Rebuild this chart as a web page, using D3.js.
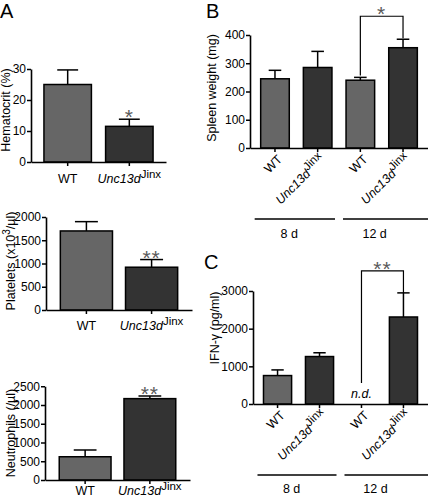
<!DOCTYPE html>
<html><head><meta charset="utf-8">
<script src="https://cdn.jsdelivr.net/npm/d3@7"></script>
<style>
body{margin:0;background:#fff;}
svg{display:block;font-family:"Liberation Sans",Arial,sans-serif;}
</style></head><body>
<svg id="chart" width="428" height="499"></svg>
<script>
// ---------- data ----------
const genotypes = ["WT", "Unc13d"];
const hematocrit = [25, 11.5];
const hematocritErr = [4.7, 2.3];
const hematocritTicks = [0, 10, 20, 30];
const hematocritSig = ["", "*"];

const platelets = [1700, 920];
const plateletsErr = [200, 165];
const plateletsTicks = [0, 500, 1000, 1500, 2000];
const plateletsSig = ["", "**"];

const neutrophils = [620, 2170];
const neutrophilsErr = [180, 70];
const neutrophilsTicks = [0, 500, 1000, 1500, 2000, 2500];
const neutrophilsSig = ["", "**"];

const bcCategories = ["WT 8 d", "Unc13d 8 d", "WT 12 d", "Unc13d 12 d"];
const bcGenotypes = ["WT", "Unc13d", "WT", "Unc13d"];
const timepoints = ["8 d", "12 d"];

const spleen = [245, 285, 240, 355];
const spleenErr = [30, 57, 10, 30];
const spleenTicks = [0, 100, 200, 300, 400];
const spleenSig = "*";

const ifng = [755, 1260, null, 2310];
const ifngErr = [150, 100, null, 640];
const ifngTicks = [0, 1000, 2000, 3000];
const ifngSig = "**";
const notDetected = "n.d.";

// ---------- style ----------
const FILL = {WT: "#666666", Unc13d: "#333333"};
const STAR = "#5a5a5a";
const svg = d3.select("#chart");

function genotypeText(sel, g) {
  if (g === "Unc13d") {
    sel.append("tspan").attr("font-style", "italic").text("Unc13d");
    sel.append("tspan").attr("dy", -5).attr("font-size", 11.5).text("Jinx");
  } else sel.text(g);
}

function panel(cfg) {
  const g = svg.append("g");
  const x = d3.scaleBand().domain(cfg.cats).range([cfg.x0, cfg.x1])
    .paddingInner(cfg.pi).paddingOuter(cfg.po);
  const y = d3.scaleLinear().domain([0, cfg.max]).range([cfg.y0, cfg.yTop]);
  const bw = x.bandwidth();

  cfg.cats.forEach((c, i) => {
    const v = cfg.values[i];
    if (v == null) return;
    const e = cfg.errs[i];
    const cx = x(c) + bw / 2;
    g.append("line").attr("x1", cx).attr("x2", cx)
      .attr("y1", y(v)).attr("y2", y(v + e))
      .attr("stroke", "#000").attr("stroke-width", 1.5);
    g.append("line").attr("x1", cx - bw * 0.22).attr("x2", cx + bw * 0.22)
      .attr("y1", y(v + e)).attr("y2", y(v + e))
      .attr("stroke", "#000").attr("stroke-width", 1.5);
    g.append("rect").attr("x", x(c)).attr("width", bw)
      .attr("y", y(v)).attr("height", y(0) - y(v))
      .attr("fill", FILL[cfg.geno[i]]).attr("stroke", "#000").attr("stroke-width", 1.5);
    if (cfg.sig && cfg.sig[i]) {
      g.append("text").attr("x", cx).attr("y", y(v + e) + 5)
        .attr("text-anchor", "middle").attr("font-size", 21).attr("fill", STAR)
        .attr("letter-spacing", 1).text(cfg.sig[i]);
    }
  });

  const ya = g.append("g").attr("transform", `translate(${cfg.x0},0)`)
    .call(d3.axisLeft(y).tickValues(cfg.ticks).tickFormat(d3.format("d"))
      .tickSize(4).tickSizeOuter(0).tickPadding(1));
  ya.attr("font-family", null).attr("font-size", null);
  ya.selectAll("text").attr("font-size", 12).attr("fill", "#000");
  const xa = g.append("g").attr("transform", `translate(0,${cfg.y0})`)
    .call(d3.axisBottom(x).tickSize(4).tickSizeOuter(0));
  xa.selectAll("text").remove();
  [ya, xa].forEach(a => {
    a.select(".domain").attr("stroke", "#000").attr("stroke-width", 1.6);
    a.selectAll(".tick line").attr("stroke", "#000").attr("stroke-width", 1.5);
  });

  cfg.cats.forEach((c, i) => {
    const cx = x(c) + bw / 2;
    if (cfg.rotate) {
      const t = g.append("text").attr("font-size", 12.5).attr("text-anchor", "end")
        .attr("transform", `translate(${cx + 8},${cfg.y0 + 12}) rotate(-45)`);
      genotypeText(t, cfg.geno[i]);
    } else {
      const t = g.append("text").attr("font-size", 12.5).attr("text-anchor", "middle")
        .attr("x", cx).attr("y", cfg.y0 + cfg.labelDy);
      genotypeText(t, cfg.geno[i]);
    }
  });

  const tt = g.append("text").attr("font-size", 12.5).attr("text-anchor", "middle")
    .attr("transform", `translate(${cfg.tx},${cfg.ty}) rotate(-90)`);
  cfg.title(tt);
  return {g, x, y, bw};
}

// Panel A - hematocrit
panel({cats: genotypes, geno: genotypes, values: hematocrit, errs: hematocritErr,
  ticks: hematocritTicks, sig: hematocritSig, max: 30, labelDy: 21,
  x0: 31, x1: 166, pi: 0.23, po: 0.21, y0: 162, yTop: 69, tx: 10, ty: 110,
  title: t => t.text("Hematocrit (%)")});

// Panel A - platelets
panel({cats: genotypes, geno: genotypes, values: platelets, errs: plateletsErr,
  ticks: plateletsTicks, sig: plateletsSig, max: 2000, labelDy: 20,
  x0: 46, x1: 192, pi: 0.2, po: 0.22, y0: 310, yTop: 217, tx: 15, ty: 261,
  title: t => { t.append("tspan").text("Platelets (x10");
    t.append("tspan").attr("dy", -5).attr("font-size", 10).text("3");
    t.append("tspan").attr("dy", 5).text("/µl)"); }});

// Panel A - neutrophils
panel({cats: genotypes, geno: genotypes, values: neutrophils, errs: neutrophilsErr,
  ticks: neutrophilsTicks, sig: neutrophilsSig, max: 2500, labelDy: 15,
  x0: 45, x1: 190, pi: 0.2, po: 0.22, y0: 480, yTop: 386.25, tx: 15, ty: 433,
  title: t => t.text("Neutrophils (/µl)")});

function groupMarks(p, y0, lineDy, labelDy, x1) {
  const {g, x, bw} = p;
  const c = bcCategories;
  const mid = (x(c[1]) + bw + x(c[2])) / 2;
  const segs = [[x(c[0]) - 6, mid - 4], [mid + 4, x1]];
  segs.forEach((s, i) => {
    g.append("line").attr("x1", s[0]).attr("x2", s[1])
      .attr("y1", y0 + lineDy).attr("y2", y0 + lineDy)
      .attr("stroke", "#000").attr("stroke-width", 1.3);
    g.append("text").attr("x", x(c[i * 2]) + bw).attr("y", y0 + labelDy)
      .attr("text-anchor", "middle").attr("font-size", 12.5).text(timepoints[i]);
  });
}

function bracket(p, i1, i2, yLeftBottom, yRightBottom, sig) {
  const {g, x, bw} = p;
  const xa = x(bcCategories[i1]) + bw / 2, xb = x(bcCategories[i2]) + bw / 2;
  const top = Math.min(yLeftBottom, yRightBottom) - 22;
  g.append("path").attr("d", `M${xa},${yLeftBottom}V${top}H${xb}V${yRightBottom}`)
    .attr("fill", "none").attr("stroke", "#000").attr("stroke-width", 1.2);
  g.append("text").attr("x", (xa + xb) / 2).attr("y", top + 5)
    .attr("text-anchor", "middle").attr("font-size", 21).attr("fill", STAR)
    .attr("letter-spacing", 1).text(sig);
}

// Panel B - spleen
const pB = panel({cats: bcCategories, geno: bcGenotypes, values: spleen, errs: spleenErr,
  ticks: spleenTicks, sig: null, max: 400, rotate: true,
  x0: 250, x1: 428, pi: 0.33, po: 0.25, y0: 148, yTop: 35, tx: 216, ty: 88,
  title: t => t.text("Spleen weight (mg)")});
groupMarks(pB, 148, 71, 90, 428);
bracket(pB, 2, 3, pB.y(spleen[2] + spleenErr[2]) - 2, pB.y(spleen[3] + spleenErr[3]) - 1, spleenSig);

// Panel C - IFN-γ
const pC = panel({cats: bcCategories, geno: bcGenotypes, values: ifng, errs: ifngErr,
  ticks: ifngTicks, sig: null, max: 3000, rotate: true,
  x0: 253, x1: 428, pi: 0.33, po: 0.25, y0: 404, yTop: 291, tx: 219, ty: 328,
  title: t => t.text("IFN-γ (pg/ml)")});
groupMarks(pC, 404, 71, 89, 428);
pC.g.append("text").attr("x", pC.x(bcCategories[2]) + pC.bw / 2).attr("y", 398)
  .attr("text-anchor", "middle").attr("font-size", 12.5).attr("font-style", "italic").text(notDetected);
bracket(pC, 2, 3, pC.y(0) - 21, pC.y(ifng[3] + ifngErr[3]), ifngSig);

// panel letters
[["A", 0, 18], ["B", 206, 18], ["C", 204, 269]].forEach(([s, lx, ly]) =>
  svg.append("text").attr("x", lx).attr("y", ly).attr("font-size", 20).text(s));
</script>
</body></html>
